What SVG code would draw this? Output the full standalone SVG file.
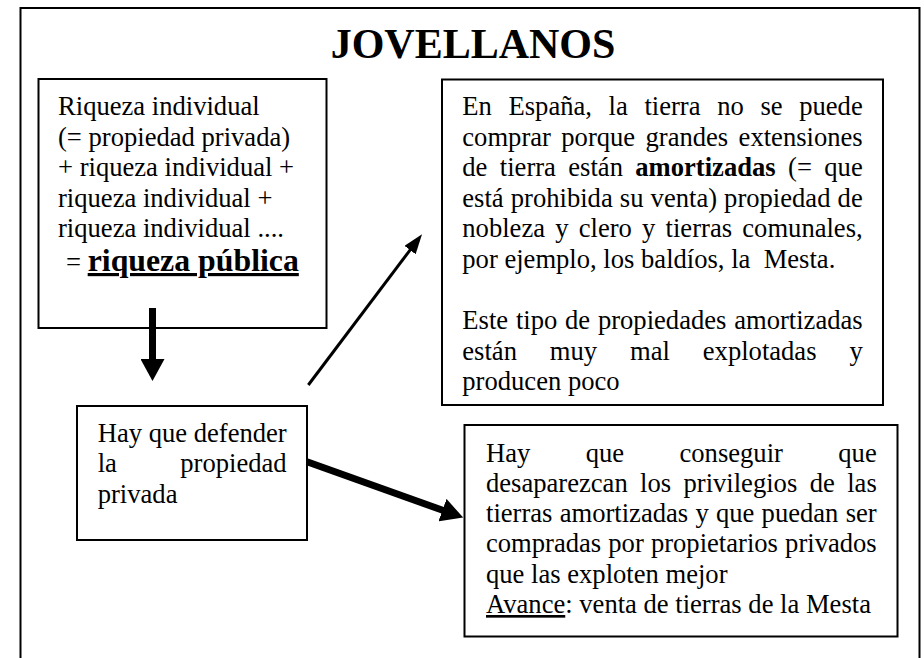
<svg xmlns="http://www.w3.org/2000/svg" width="924" height="658" viewBox="0 0 924 658">
<style>
.t { font-family: "Liberation Serif", "Times New Roman", serif; font-size: 26.6px; fill: #000; }
.b { font-weight: bold; }
.u { text-decoration: underline; }
.ub { text-decoration: underline; text-decoration-thickness: 3px; }
.box { fill: #fff; stroke: #000; stroke-width: 2; }
.title { font-family: "Liberation Serif", "Times New Roman", serif; font-size: 42px; font-weight: bold; fill: #000; }
.thick { stroke: #000; stroke-width: 7; fill: none; }
.thin { stroke: #000; stroke-width: 3; fill: none; }
</style>
<defs>
<marker id="headThick" markerUnits="userSpaceOnUse" markerWidth="24" markerHeight="24" refX="1" refY="12" orient="auto">
<path d="M0,0 L22,12 L0,24 Z" fill="#000"/>
</marker>
<marker id="headThin" markerUnits="userSpaceOnUse" markerWidth="20" markerHeight="14" refX="1" refY="7" orient="auto">
<path d="M0,0 L20,7 L0,14 Z" fill="#000"/>
</marker>
</defs>
<rect width="924" height="658" fill="#fff"/>
<g id="frame">
<rect x="20.5" y="8" width="899" height="700" fill="none" stroke="#000" stroke-width="2"/>
<text class="title" x="473" y="57.5" text-anchor="middle">JOVELLANOS</text>
</g>
<g id="node-riqueza">
<rect class="box" x="38.5" y="79" width="288" height="249"/>
<text class="t" x="58" y="115">Riqueza individual</text>
<text class="t" x="58" y="145.6">(= propiedad privada)</text>
<text class="t" x="58" y="176.2">+ riqueza individual +</text>
<text class="t" x="58" y="206.8">riqueza individual +</text>
<text class="t" x="58" y="237.4">riqueza individual ....</text>
<text class="t" y="271"><tspan x="66">=</tspan><tspan x="87.7" class="b ub" font-size="31.8">riqueza pública</tspan></text>
</g>
<g id="node-espana">
<rect class="box" x="442" y="79.5" width="441" height="325.5"/>
<text class="t" y="115"><tspan x="462.3">En</tspan><tspan x="508.5">España,</tspan><tspan x="608.6">la</tspan><tspan x="644.4">tierra</tspan><tspan x="717.2">no</tspan><tspan x="760.4">se</tspan><tspan x="799.2">puede</tspan></text>
<text class="t" y="145.6"><tspan x="462.3">comprar</tspan><tspan x="561.3">porque</tspan><tspan x="645.5">grandes</tspan><tspan x="738.6">extensiones</tspan></text>
<text class="t" y="176.2"><tspan x="462.3">de</tspan><tspan x="499.8">tierra</tspan><tspan x="568.3">están</tspan><tspan x="635.3" class="b">amortizadas</tspan><tspan x="788.1">(=</tspan><tspan x="824.3">que</tspan></text>
<text class="t" y="206.8"><tspan x="462.3">está</tspan><tspan x="510.8">prohibida</tspan><tspan x="619.8">su</tspan><tspan x="650.6">venta)</tspan><tspan x="724.1">propiedad</tspan><tspan x="837.6">de</tspan></text>
<text class="t" y="237.4"><tspan x="462.3">nobleza</tspan><tspan x="555.2">y</tspan><tspan x="578.7">clero</tspan><tspan x="642.1">y</tspan><tspan x="665.6">tierras</tspan><tspan x="742.3">comunales,</tspan></text>
<text class="t" x="462.3" y="268" xml:space="preserve">por ejemplo, los baldíos, la  Mesta.</text>
<text class="t" y="329.2"><tspan x="462.3">Este</tspan><tspan x="515.9">tipo</tspan><tspan x="565">de</tspan><tspan x="597.9">propiedades</tspan><tspan x="734.2">amortizadas</tspan></text>
<text class="t" y="359.8"><tspan x="462.3">están</tspan><tspan x="549.8">muy</tspan><tspan x="630">mal</tspan><tspan x="702.8">explotadas</tspan><tspan x="849.4">y</tspan></text>
<text class="t" x="462.3" y="390.4">producen poco</text>
</g>
<g id="node-defender">
<rect class="box" x="77" y="406" width="230" height="134"/>
<text class="t" x="97.7" y="441.5">Hay que defender</text>
<text class="t" y="472.1"><tspan x="97.7">la</tspan><tspan x="180.3">propiedad</tspan></text>
<text class="t" x="97.7" y="502.7">privada</text>
</g>
<g id="node-conseguir">
<rect class="box" x="464.5" y="425" width="433" height="211.5"/>
<text class="t" y="461.5"><tspan x="486">Hay</tspan><tspan x="585.7">que</tspan><tspan x="679.5">conseguir</tspan><tspan x="838.3">que</tspan></text>
<text class="t" y="491.8"><tspan x="486">desaparezcan</tspan><tspan x="640.1">los</tspan><tspan x="683.5">privilegios</tspan><tspan x="809.7">de</tspan><tspan x="847.2">las</tspan></text>
<text class="t" y="522.1"><tspan x="486">tierras</tspan><tspan x="559.7">amortizadas</tspan><tspan x="695.5">y</tspan><tspan x="716">que</tspan><tspan x="761.6">puedan</tspan><tspan x="845.7">ser</tspan></text>
<text class="t" y="552.4"><tspan x="486">compradas</tspan><tspan x="608.3">por</tspan><tspan x="650.9">propietarios</tspan><tspan x="785.1">privados</tspan></text>
<text class="t" x="486" y="582.7">que las exploten mejor</text>
<text class="t" x="486" y="613"><tspan class="u">Avance</tspan>: venta de tierras de la Mesta</text>
</g>
<g id="connectors">
<line class="thick" x1="152.5" y1="308" x2="152.5" y2="360" marker-end="url(#headThick)"/>
<line class="thin" x1="308.3" y1="385" x2="410.6" y2="249.3" marker-end="url(#headThin)"/>
<line class="thick" x1="307" y1="461.7" x2="443.4" y2="510.5" marker-end="url(#headThick)"/>
</g>
</svg>
